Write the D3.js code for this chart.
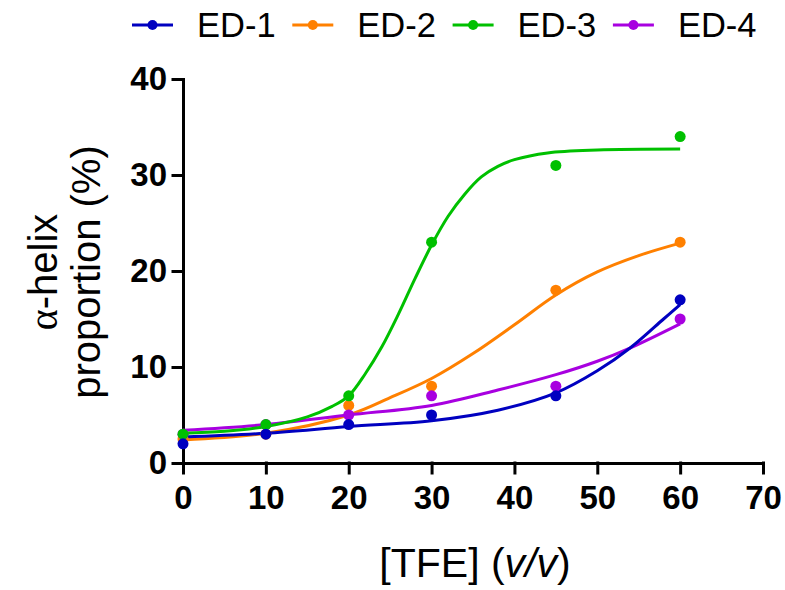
<!DOCTYPE html>
<html>
<head>
<meta charset="utf-8">
<script src="https://cdn.jsdelivr.net/npm/d3@7"></script>
<style>
  body { margin: 0; background: #fff; }
  text { font-family: "Liberation Sans", Arial, sans-serif; }
</style>
</head>
<body>
<div id="chart"></div>
<script>
// measured points
const seriesNames = ["ED-1", "ED-2", "ED-3", "ED-4"]
const seriesColors = ["#0000c0", "#ff8000", "#00c000", "#a800e0"]
const tfe = [0, 10, 20, 30, 45, 60]
const ed1 = [2, 3, 4, 5, 7, 17]
const ed2 = [2.5, 3, 6, 8, 18, 23]
const ed3 = [3, 4, 7, 23, 31, 34]
const ed4 = [3, 4, 5, 7, 8, 15]

// fitted curves
const fitX1 = [0, 10, 20, 30, 38, 45, 50, 54, 58, 60]
const fitY1 = [2.7, 3.1, 3.8, 4.4, 5.5, 7.3, 9.6, 12.0, 15.0, 16.5]
const fitX2 = [0, 10, 20, 25, 30, 35, 40, 45, 50, 55, 60]
const fitY2 = [2.4, 3.1, 5.0, 6.8, 8.8, 11.4, 14.4, 17.5, 19.9, 21.6, 22.9]
const fitX3 = [0, 5, 10, 15, 18, 20, 22, 24, 26, 28, 30, 32, 34, 36, 38, 40, 44, 50, 60]
const fitY3 = [3.1, 3.3, 3.8, 4.8, 5.9, 7.0, 9.3, 12.1, 15.5, 19.2, 22.7, 25.7, 28.0, 29.8, 30.9, 31.6, 32.3, 32.6, 32.7]
const fitX4 = [0, 10, 20, 30, 38, 45, 50, 54, 60]
const fitY4 = [3.4, 4.0, 5.0, 6.0, 7.6, 9.2, 10.6, 12.0, 14.5]

const xTicks = [0, 10, 20, 30, 40, 50, 60, 70]
const yTicks = [0, 10, 20, 30, 40]

const pointSets = [ed1, ed2, ed3, ed4]
const fitXs = [fitX1, fitX2, fitX3, fitX4]
const fitYs = [fitY1, fitY2, fitY3, fitY4]

let width = 785
let height = 590

let svg = d3.select("#chart").append("svg")
  .attr("width", width)
  .attr("height", height)

let x = d3.scaleLinear().domain([0, 70]).range([183, 763])
let y = d3.scaleLinear().domain([0, 40]).range([463, 79])

// axes
svg.append("g")
  .attr("transform", "translate(0," + y(0) + ")")
  .call(d3.axisBottom(x).tickValues(xTicks).tickSize(10).tickSizeOuter(0).tickPadding(13))

svg.append("g")
  .attr("transform", "translate(" + x(0) + ",0)")
  .call(d3.axisLeft(y).tickValues(yTicks).tickSize(10).tickSizeOuter(0).tickPadding(6))

svg.selectAll(".domain, .tick line")
  .attr("stroke", "#000")
  .attr("stroke-width", 3)
  .attr("stroke-linecap", "square")

svg.selectAll(".tick text")
  .attr("fill", "#000")
  .style("font-size", "33px")
  .style("font-weight", "bold")
  .style("font-family", "'Liberation Sans', Arial, sans-serif")

// fitted lines
let line = d3.line()
  .x(d => x(d[0]))
  .y(d => y(d[1]))
  .curve(d3.curveCatmullRom.alpha(0.5))

let drawOrder = [1, 3, 2, 0]

drawOrder.forEach(function(i) {
  let pts = fitXs[i].map((v, j) => [v, fitYs[i][j]])
  svg.append("path")
    .datum(pts)
    .attr("d", line)
    .attr("fill", "none")
    .attr("stroke", seriesColors[i])
    .attr("stroke-width", 3)
})

drawOrder.forEach(function(i) {
  svg.append("g")
    .selectAll("circle")
    .data(tfe.map((v, j) => [v, pointSets[i][j]]))
    .enter().append("circle")
    .attr("cx", d => x(d[0]))
    .attr("cy", d => y(d[1]))
    .attr("r", 5.5)
    .attr("fill", seriesColors[i])
})

// legend
let legend = svg.append("g")
seriesNames.forEach(function(name, i) {
  let lx = 132 + i * 160.3
  legend.append("line")
    .attr("x1", lx).attr("x2", lx + 41)
    .attr("y1", 25).attr("y2", 25)
    .attr("stroke", seriesColors[i])
    .attr("stroke-width", 3)
  legend.append("circle")
    .attr("cx", lx + 20.5).attr("cy", 25)
    .attr("r", 5)
    .attr("fill", seriesColors[i])
  legend.append("text")
    .attr("x", lx + 65)
    .attr("y", 37)
    .style("font-size", "34.5px")
    .attr("fill", "#000")
    .text(name)
})

// x title
let xt = svg.append("text")
  .attr("x", 475)
  .attr("y", 577)
  .attr("text-anchor", "middle")
  .style("font-size", "41px")
xt.append("tspan").text("[TFE] (")
xt.append("tspan").style("font-style", "italic").text("v/v")
xt.append("tspan").text(")")

// y title, two lines
let yt1 = svg.append("text")
  .attr("transform", "translate(57,272) rotate(-90)")
  .attr("text-anchor", "middle")
  .style("font-size", "40px")
yt1.append("tspan").style("font-family", "'Liberation Serif', serif").text("α")
yt1.append("tspan").text("-helix")

svg.append("text")
  .attr("transform", "translate(100,272) rotate(-90)")
  .attr("text-anchor", "middle")
  .style("font-size", "40px")
  .text("proportion (%)")
</script>
</body>
</html>
